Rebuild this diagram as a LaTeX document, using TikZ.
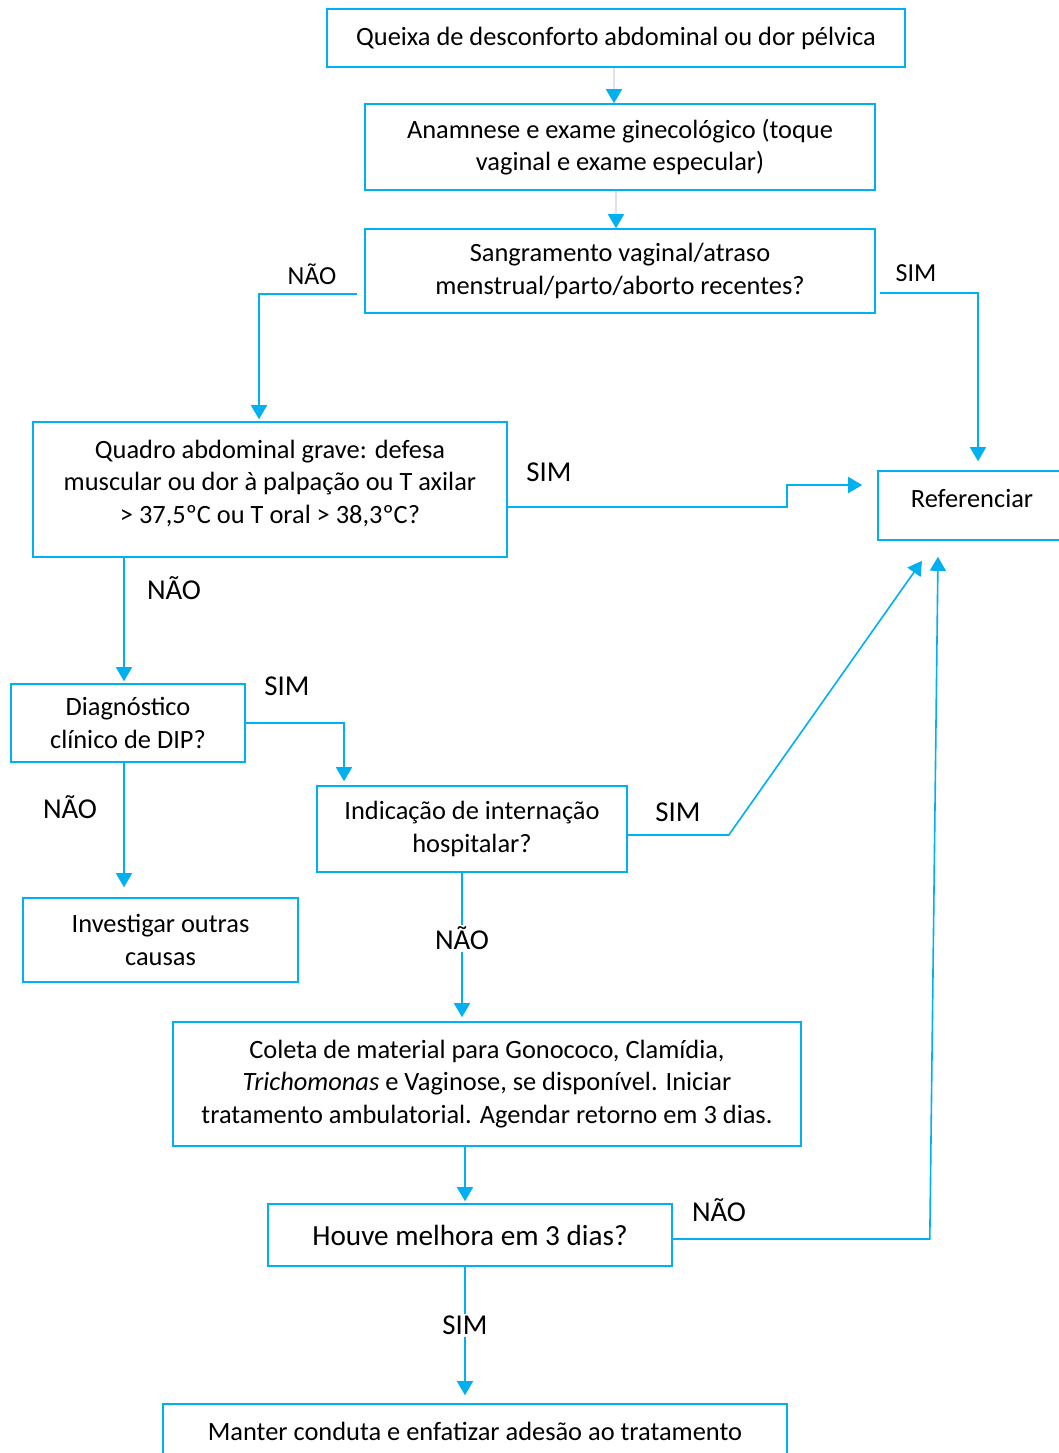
\documentclass[tikz,border=0pt]{standalone}
\usepackage{fontspec}
\setmainfont{Carlito}
\usetikzlibrary{arrows.meta, positioning}
\definecolor{fluxo}{HTML}{00B0F0}
\definecolor{palido}{RGB}{222,226,238}
\newcommand{\descer}[1]{\rule[-#1]{0pt}{0pt}}

\begin{document}
\begin{tikzpicture}[x=0.5pt,y=-0.5pt,
  >={Triangle[width=8pt,length=7pt]},
  font=\fontsize{13.2}{16.25}\selectfont]
\tikzset{caixa/.style={draw=fluxo,line width=0.8pt,inner sep=2pt,align=center},
  seta/.style={->,draw=fluxo,line width=0.8pt},
  setafraca/.style={->,draw=palido,line width=0.8pt,
    >={Triangle[width=8pt,length=7pt,color=fluxo,fill=fluxo]}},
  rotulo/.style={font=\fontsize{13}{15}\selectfont},
  rotulogr/.style={font=\fontsize{14.4}{16}\selectfont}}
\useasboundingbox (0,0) rectangle (1059,1453);

%-- Caixas --
\node[caixa,minimum width=289pt,minimum height=29pt] (queixa) at (616,38)
  {Queixa de desconforto abdominal ou dor pélvica};
\node[caixa,minimum width=255pt,minimum height=43pt] (anam) at (620,147)
  {Anamnese e exame ginecológico (toque\\vaginal e exame especular)};
\node[caixa,minimum width=255pt,minimum height=42pt] (sang) at (620,271)
  {Sangramento vaginal/atraso\\menstrual/parto/aborto recentes?};
\node[caixa,minimum width=237pt,minimum height=67.5pt] (quadro) at (270,489.5)
  {Quadro abdominal grave: defesa\\muscular ou dor à palpação ou T axilar\\> 37,5ºC ou T oral > 38,3ºC?\descer{8pt}};
\node[caixa,minimum width=94pt,minimum height=34.5pt] (ref) at (972,505.5)
  {Referenciar\descer{7pt}};
\node[caixa,minimum width=117pt,minimum height=39pt] (diag) at (128,723)
  {Diagnóstico\\clínico de DIP?};
\node[caixa,minimum width=155pt,minimum height=43pt] (ind) at (472,829)
  {Indicação de internação\\hospitalar?};
\node[caixa,minimum width=137.5pt,minimum height=42pt] (inv) at (160.5,940)
  {Investigar outras\\causas};
\node[caixa,minimum width=314pt,minimum height=62pt] (coleta) at (487,1084)
  {Coleta de material para Gonococo, Clamídia,\\\textit{Trichomonas} e Vaginose, se disponível. Iniciar\\tratamento ambulatorial. Agendar retorno em 3 dias.};
\node[caixa,minimum width=202pt,minimum height=31pt,font=\fontsize{14.6}{17}\selectfont] (houve) at (470,1235)
  {Houve melhora em 3 dias?};
\node[caixa,minimum width=312pt,minimum height=33pt] (manter) at (475,1437)
  {Manter conduta e enfatizar adesão ao tratamento\descer{6pt}};

%-- Rotulos --
\node[rotulo] (naoA) at (312,274) {NÃO};
\node[rotulo] (simA) at (916,273) {SIM};
\node[rotulogr] (simB) at (549,472) {SIM};
\node[rotulogr] (naoB) at (174,588) {NÃO};
\node[rotulogr] (simC) at (287,686) {SIM};
\node[rotulogr] (naoC) at (70,807) {NÃO};
\node[rotulogr] (simD) at (678,812) {SIM};
\node[rotulogr] (naoD) at (719,1210) {NÃO};

%-- Ligacoes --
\draw[setafraca] ([xshift=-1pt]queixa.south) -- ([xshift=-1pt]queixa.south |- anam.north);
\draw[setafraca] ([xshift=-2pt]anam.south) -- ([xshift=-2pt]anam.south |- sang.north);
\draw[seta] ([xshift=-3.5pt,yshift=-11.5pt]sang.west) -| ([xshift=-5.5pt,yshift=1pt]quadro.north);
\draw[seta,shorten >=4.5pt] ([xshift=2pt,yshift=-11pt]sang.east) -| ([xshift=3pt]ref.north);
\draw[seta,shorten >=7.5pt] ([yshift=-8.75pt]quadro.east) -- ++(279,0) |- ([yshift=10.25pt]ref.west);
\draw[seta] ([xshift=-2pt]diag.north |- quadro.south) -- ([xshift=-2pt,yshift=1pt]diag.north);
\draw[seta] (diag.east) -| ([xshift=-64pt,yshift=2pt]ind.north);
\draw[seta,shorten >=5pt] ([xshift=-2pt]diag.south) -- ([xshift=-2pt]diag.south |- inv.north);
\draw[seta] ([yshift=-3pt]ind.east) -- ++(101,0) -- ([xshift=-25pt,yshift=-10pt]ref.south);
\draw[seta,shorten >=2pt] ([xshift=-5pt]ind.south) -- node[rotulogr,fill=white,inner sep=1pt,pos=0.44] (naoE) {NÃO} ([xshift=-5pt]ind.south |- coleta.north);
\draw[seta,shorten >=1pt] ([xshift=-2.5pt]houve.north |- coleta.south) -- ([xshift=-2.5pt]houve.north);
\draw[seta] ([yshift=-2pt]houve.east) -- ++(257,0) -- ([xshift=-17pt,yshift=-8pt]ref.south);
\draw[seta,shorten >=4pt] ([xshift=-2.5pt]houve.south) -- node[rotulogr,fill=white,inner sep=1pt,pos=0.43] (simE) {SIM} ([xshift=-2.5pt]houve.south |- manter.north);
\end{tikzpicture}
\end{document}
